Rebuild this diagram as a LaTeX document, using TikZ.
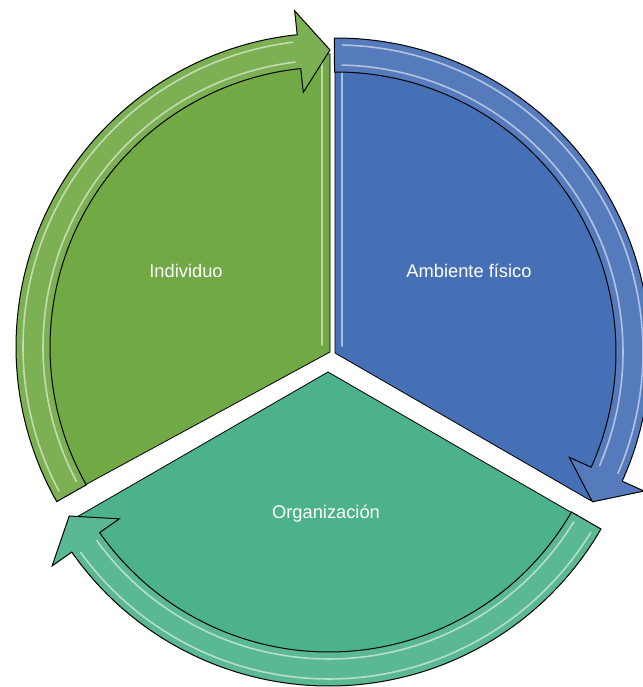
\documentclass[tikz,border=0pt]{standalone}
\usepackage{fontspec}
\setmainfont{Liberation Sans}
\usepackage{xcolor}
\usepackage{tikz}
\usetikzlibrary{positioning}

\definecolor{indcol}{RGB}{113,169,68}
\definecolor{ambcol}{RGB}{70,112,182}
\definecolor{orgcol}{RGB}{76,178,137}

% ring arrow: centre, start angle, angle of the head's back, tip angle, colour
\newcommand{\ringarrow}[5]{%
  \begin{scope}[shift={#1}]
    \filldraw[band, fill=#5!92!white] (#2:314) arc[start angle=#2, end angle=#3, radius=314]
      -- (#3:338) -- (#4:297) -- (#3:256) -- (#3:280)
      arc[start angle=#3, end angle=#2, radius=280] -- cycle;
    \draw[gloss] (#2-1.5:307) arc[start angle=#2-1.5, end angle=#3+1, radius=307];
    \draw[gloss] (#2-1.5:287) arc[start angle=#2-1.5, end angle=#3+1, radius=287];
  \end{scope}}

\begin{document}
\begin{tikzpicture}[x=1pt,y=1pt]
        \tikzstyle{sector}=[draw=black,line width=0.8pt,line join=round]
        \tikzstyle{band}=[draw=black,line width=1pt,line join=miter]
        \tikzstyle{gloss}=[white,opacity=0.55,line width=1.6pt,line cap=round]
        \tikzstyle{label}=[text=white,font=\fontsize{18.3}{22}\selectfont,anchor=base]
        \useasboundingbox (0,0) rectangle (642,687);
        % the three slices
        \filldraw[sector, fill=indcol] (330,335) -- ++(90:298) arc[start angle=90, end angle=208.5, radius=298] -- cycle;
        \filldraw[sector, fill=ambcol] (335,334) -- ++(90:295) arc[start angle=90, end angle=-30, radius=295] -- cycle;
        \filldraw[sector, fill=orgcol] (328,315) -- ++(210:295) arc[start angle=210, end angle=330, radius=295] -- cycle;
        \draw[gloss] (322,342) -- (322,625);
        \draw[gloss] (342,341) -- (342,625);
        % arrows round the slices
        \ringarrow{(330,340)}{209.5}{96}{90}{indcol}
        \ringarrow{(336,335)}{90.3}{-24.3}{-30.3}{ambcol}
        \ringarrow{(329,315)}{-30}{-145}{-151}{orgcol}
        \node[label] (ind) at (186,409) {Individuo};
        \node[label] (amb) at (469,409) {Ambiente físico};
        \node[label] (org) at (326,168) {Organización};
    \end{tikzpicture}
\end{document}
